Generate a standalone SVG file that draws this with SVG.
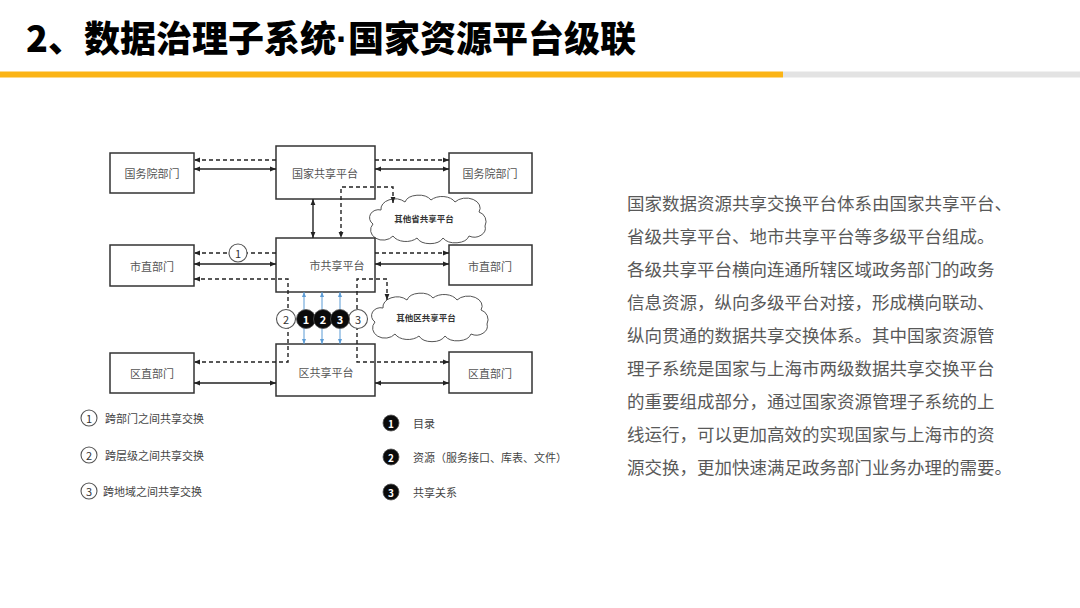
<svg xmlns="http://www.w3.org/2000/svg" width="1080" height="608" viewBox="0 0 1080 608">
<style>
text{font-family:"Noto Sans CJK SC","Noto Sans",sans-serif;}
.title{font-size:36px;font-weight:900;fill:#000;}
.para{font-size:17.5px;fill:#595959;dominant-baseline:central;}
.box rect{fill:#fff;stroke:#333;stroke-width:1.5;}
.box text{font-size:11px;fill:#555;text-anchor:middle;dominant-baseline:central;}
.ln{fill:none;stroke:#222;stroke-width:1.4;}
.dash{fill:none;stroke:#222;stroke-width:1.4;stroke-dasharray:4 3;}
.blue{fill:none;stroke:#5B9BD5;stroke-width:1;}
.wc circle{fill:#fff;stroke:#555;stroke-width:1.1;}
.wc text{font-size:11px;fill:#333;text-anchor:middle;dominant-baseline:central;}
.bc circle{fill:#0a0a0a;stroke:#555;stroke-width:0.8;}
.bc text{font-size:11px;fill:#fff;font-weight:bold;text-anchor:middle;dominant-baseline:central;}
.cloud{fill:#fff;stroke:#555;stroke-width:1;}
.ctext{font-size:8.5px;font-weight:bold;fill:#333;text-anchor:middle;dominant-baseline:central;}
.lg{font-size:11px;fill:#444;dominant-baseline:central;}
</style>
<defs>
<marker id="a" viewBox="0 0 10 10" refX="10" refY="5" markerWidth="6" markerHeight="6" markerUnits="userSpaceOnUse" orient="auto-start-reverse"><path d="M0,1 L10,5 L0,9 z" fill="#222"/></marker>
<marker id="b" viewBox="0 0 10 10" refX="10" refY="5" markerWidth="5" markerHeight="5" markerUnits="userSpaceOnUse" orient="auto-start-reverse"><path d="M0,1 L10,5 L0,9 z" fill="#5B9BD5"/></marker>
<path id="cloudShape" d="M6,28 a9,8 0 0 1 8,-14 a14,10 0 0 1 24,-8 a14,9 0 0 1 26,-2 a14,9 0 0 1 24,2 a14,10 0 0 1 24,10 a10,10 0 0 1 6,14 a11,9 0 0 1 -16,10 a14,9 0 0 1 -26,2 a14,9 0 0 1 -26,0 a14,9 0 0 1 -24,-2 a11,9 0 0 1 -20,-12 z"/>
</defs>
<rect width="1080" height="608" fill="#fff"/>

<g id="header">
<text class="title" x="26" y="52">2、数据治理子系统<tspan style="font-family:'Liberation Sans',sans-serif">·</tspan>国家资源平台级联</text>
<rect x="0" y="71.5" width="783" height="6" fill="#FBB415"/>
<rect x="783" y="71.5" width="297" height="6" fill="#E3E3E3"/>
</g>

<g id="clouds">
<g id="cloud-province" transform="translate(367,196)"><use href="#cloudShape" class="cloud"/><text class="ctext" x="57" y="22">其他省共享平台</text></g>
<g id="cloud-district" transform="translate(369,294)"><use href="#cloudShape" class="cloud"/><text class="ctext" x="57" y="23">其他区共享平台</text></g>
</g>

<g id="nodes">
<g id="gwy-left" class="box"><rect x="110" y="153" width="84" height="40"/><text x="152" y="173">国务院部门</text></g>
<g id="gj-platform" class="box"><rect x="276" y="146" width="99" height="53"/><text x="325" y="173">国家共享平台</text></g>
<g id="gwy-right" class="box"><rect x="449" y="153" width="83" height="40"/><text x="490" y="173">国务院部门</text></g>
<g id="szb-left" class="box"><rect x="110" y="245" width="84" height="41"/><text x="152" y="266">市直部门</text></g>
<g id="s-platform" class="box"><rect x="276" y="238" width="99" height="54"/><text x="337" y="265">市共享平台</text></g>
<g id="szb-right" class="box"><rect x="449" y="245" width="83" height="40"/><text x="490" y="266">市直部门</text></g>
<g id="qzb-left" class="box"><rect x="110" y="353" width="84" height="40"/><text x="152" y="373">区直部门</text></g>
<g id="q-platform" class="box"><rect x="276" y="344" width="99" height="52"/><text x="326" y="372">区共享平台</text></g>
<g id="qzb-right" class="box"><rect x="449" y="352" width="83" height="41"/><text x="490" y="373">区直部门</text></g>
</g>

<g id="connectors">
<path class="dash" d="M276,160 L194,160" marker-end="url(#a)"/>
<path class="dash" d="M375,160 L449,160" marker-end="url(#a)"/>
<path class="ln" d="M194,169 L276,169" marker-start="url(#a)" marker-end="url(#a)"/>
<path class="ln" d="M375,169 L449,169" marker-start="url(#a)" marker-end="url(#a)"/>
<path class="ln" d="M313,199 L313,238" marker-start="url(#a)" marker-end="url(#a)"/>
<path class="dash" d="M393,203 L393,187 L341,187 L341,238" marker-start="url(#a)" marker-end="url(#a)"/>

<path class="dash" d="M276,253 L194,253" marker-end="url(#a)"/>
<path class="dash" d="M375,253 L449,253" marker-end="url(#a)"/>
<path class="ln" d="M194,264 L276,264" marker-start="url(#a)" marker-end="url(#a)"/>
<path class="ln" d="M375,264 L449,264" marker-start="url(#a)" marker-end="url(#a)"/>
<path class="dash" d="M194,279 L288,279 L288,362 L194,362" marker-start="url(#a)" marker-end="url(#a)"/>
<path class="dash" d="M387,300 L387,279 L357,279 L357,362 L449,362" marker-start="url(#a)" marker-end="url(#a)"/>

<path class="ln" d="M194,383 L276,383" marker-start="url(#a)" marker-end="url(#a)"/>
<path class="ln" d="M375,383 L449,383" marker-start="url(#a)" marker-end="url(#a)"/>

<path class="blue" d="M304,292 L304,344" marker-start="url(#b)" marker-end="url(#b)"/>
<path class="blue" d="M322,292 L322,344" marker-start="url(#b)" marker-end="url(#b)"/>
<path class="blue" d="M340,292 L340,344" marker-start="url(#b)" marker-end="url(#b)"/>

<g class="wc"><circle cx="238" cy="253" r="9"/><text x="238" y="253">1</text></g>
<g class="wc"><circle cx="286" cy="319" r="9.5"/><text x="286" y="319">2</text></g>
<g class="wc"><circle cx="358" cy="319" r="9.5"/><text x="358" y="319">3</text></g>
<g class="bc"><circle cx="306" cy="319" r="9.5"/><text x="306" y="319">1</text></g>
<g class="bc"><circle cx="323" cy="319" r="9.5"/><text x="323" y="319">2</text></g>
<g class="bc"><circle cx="340" cy="319" r="9.5"/><text x="340" y="319">3</text></g>
</g>

<g id="legend">
<g class="wc"><circle cx="89" cy="418" r="8"/><text x="89" y="418">1</text></g>
<text class="lg" x="105" y="418">跨部门之间共享交换</text>
<g class="wc"><circle cx="89" cy="455" r="8"/><text x="89" y="455">2</text></g>
<text class="lg" x="105" y="455">跨层级之间共享交换</text>
<g class="wc"><circle cx="89" cy="491" r="8"/><text x="89" y="491">3</text></g>
<text class="lg" x="103" y="491">跨地域之间共享交换</text>

<g class="bc"><circle cx="391" cy="423" r="8"/><text x="391" y="423" style="font-size:10px">1</text></g>
<text class="lg" x="413" y="423">目录</text>
<g class="bc"><circle cx="391" cy="457" r="8"/><text x="391" y="457" style="font-size:10px">2</text></g>
<text class="lg" x="413" y="457">资源（服务接口、库表、文件）</text>
<g class="bc"><circle cx="391" cy="492" r="8"/><text x="391" y="492" style="font-size:10px">3</text></g>
<text class="lg" x="413" y="492">共享关系</text>
</g>

<g id="description">
<text class="para" x="627" y="202">国家数据资源共享交换平台体系由国家共享平台、</text>
<text class="para" x="627" y="235">省级共享平台、地市共享平台等多级平台组成。</text>
<text class="para" x="627" y="268">各级共享平台横向连通所辖区域政务部门的政务</text>
<text class="para" x="627" y="301">信息资源，纵向多级平台对接，形成横向联动、</text>
<text class="para" x="627" y="334">纵向贯通的数据共享交换体系。其中国家资源管</text>
<text class="para" x="627" y="367">理子系统是国家与上海市两级数据共享交换平台</text>
<text class="para" x="627" y="400">的重要组成部分，通过国家资源管理子系统的上</text>
<text class="para" x="627" y="433">线运行，可以更加高效的实现国家与上海市的资</text>
<text class="para" x="627" y="466">源交换，更加快速满足政务部门业务办理的需要。</text>
</g>
</svg>
